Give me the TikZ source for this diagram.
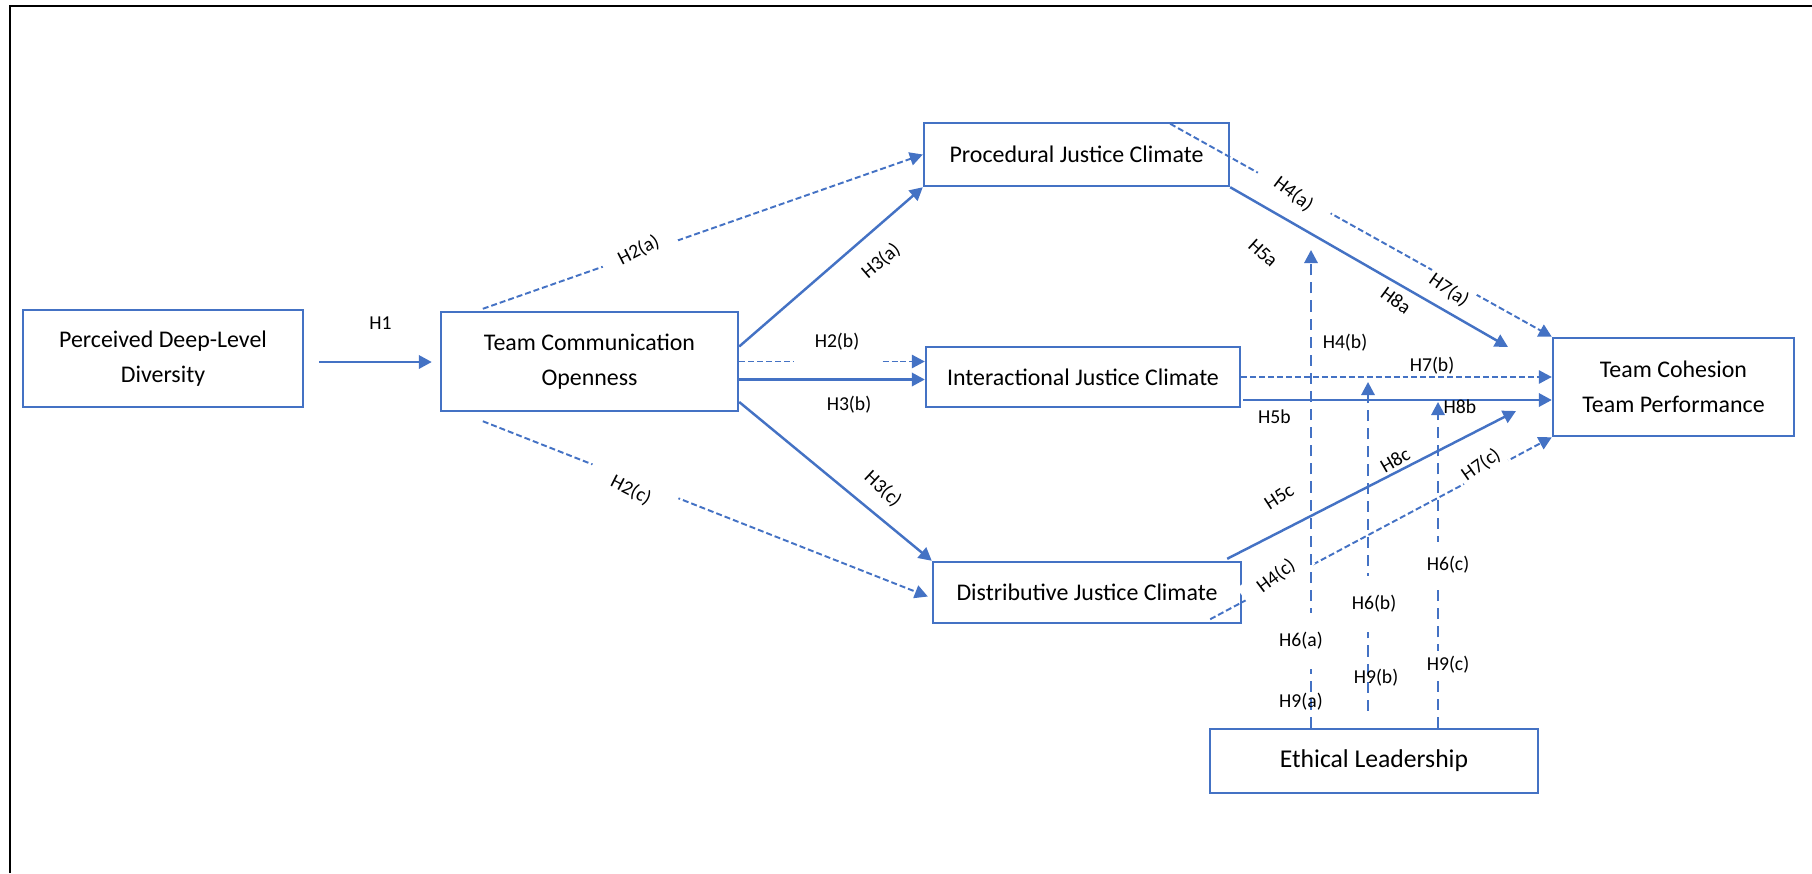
\documentclass[tikz,border=0pt]{standalone}
\usepackage{fontspec}
\setmainfont{Carlito}
\usetikzlibrary{arrows.meta, calc}
\definecolor{wordblue}{HTML}{4472C4}

\begin{document}
\begin{tikzpicture}[x=0.02cm, y=-0.02cm, >={Triangle[length=7.4pt, width=7.6pt]},
  box/.style={draw=wordblue, line width=1.4pt, align=center,
    font=\fontsize{13.6}{20}\selectfont, inner sep=0pt},
  solidarr/.style={->, wordblue, line width=1.4pt},
  dasharr/.style={->, wordblue, line width=1.1pt, dash pattern=on 3.4pt off 1.7pt},
  modarr/.style={->, wordblue, line width=1.1pt, dash pattern=on 6.3pt off 4pt},
  hyp/.style={font=\fontsize{11.2}{13}\selectfont, inner sep=1pt},
  hypgap/.style={hyp, fill=white}]
  \useasboundingbox (0,0) rectangle (1812,873);

  % --- frame ---
  \draw[line width=1.4pt] (10,873) -- (10,6) -- (1812,6);

  % --- boxes ---
  \node[box, minimum width=5.6cm, minimum height=1.94cm] (pdd) at (163,358.5)
    {Perceived Deep-Level\\Diversity};
  \node[box, minimum width=5.94cm, minimum height=1.98cm] (tco) at (589.5,361.5)
    {Team Communication\\Openness};
  \node[box, minimum width=6.1cm, minimum height=1.26cm] (pjc) at (1076.5,154.5)
    {Procedural Justice Climate};
  \node[box, minimum width=6.28cm, minimum height=1.2cm] (ijc) at (1083,377)
    {Interactional Justice Climate};
  \node[box, minimum width=6.16cm, minimum height=1.22cm] (djc) at (1087,592.5)
    {Distributive Justice Climate};
  \node[box, minimum width=4.82cm, minimum height=1.96cm] (tctp) at (1673.5,387)
    {Team Cohesion\\Team Performance};
  \node[box, minimum width=6.56cm, minimum height=1.28cm,
    font=\fontsize{14.6}{20}\selectfont] (el) at (1374,761) {Ethical Leadership};

  % free ends
  \coordinate (h8a) at (1508,347);
  \coordinate (h8c) at (1516,411);
  \coordinate (h3b) at ($(tco.east)+(0,18)$);
  \coordinate (h8b) at ($(ijc.east)+(2,23)$);
  \coordinate (m5a) at (1311,250);
  \coordinate (m4b) at (1368,382);
  \coordinate (m5b) at (1438,402);

  % --- dashed paths (H2, H4, H7) ---
  \draw[dasharr] ($(tco.north west)+(43,-2)$) -- (pjc.west);
  \draw[dasharr] (tco.east) -- (tco.east -| ijc.west);
  \draw[dasharr] ($(tco.south west)+(43,9)$) -- ($(djc.west)+(-4,4)$);
  \draw[dasharr] ($(pjc.north east)+(-60,2)$) -- (tctp.north west);
  \draw[dasharr] (ijc.east) -- (ijc.east -| tctp.west);
  \draw[dasharr] ($(djc.south east)+(-32,-5)$) -- (tctp.south west);

  % gaps in the dashed paths
  \node[hypgap, rotate=27, inner xsep=10pt, inner ysep=3pt] (lh2a) at (638.6,250) {H2(a)};
  \node[hypgap, inner xsep=12pt, inner ysep=7pt] (lh2b) at (837,342) {H2(b)};
  \node[hypgap, rotate=-27, inner xsep=14pt, inner ysep=4pt] (lh2c) at (631,490) {H2(c)};
  \node[hypgap, rotate=-37, inner xsep=11pt, inner ysep=3pt] (lh4a) at (1293.5,194) {H4(a)};
  \node[hypgap, rotate=-35, inner xsep=2pt, inner ysep=4pt] (lh7a) at (1449,290) {H7(a)};
  \node[hypgap, rotate=37, inner xsep=10pt, inner ysep=3pt] (lh4c) at (1276,576) {H4(c)};
  \node[hypgap, rotate=35, inner xsep=2pt, inner ysep=3pt] (lh7c) at (1481,465) {H7(c)};

  % --- moderation (ethical leadership) ---
  \draw[modarr] (m5a |- el.north) -- (m5a);
  \draw[modarr] ($(m4b |- el.north)+(0,-17)$) -- (m4b);
  \draw[modarr] (m5b |- el.north) -- (m5b);
  \node[hypgap, inner xsep=1pt, inner ysep=11pt] (lh6a) at (1301,641) {H6(a)};
  \node[hypgap, inner xsep=1pt, inner ysep=11pt] (lh6b) at (1374,604) {H6(b)};
  \node[hypgap, inner xsep=1pt, inner ysep=8pt] (lh6c) at (1448,565) {H6(c)};
  \node[hypgap, inner xsep=1pt, inner ysep=3pt] (lh9c) at (1448,665) {H9(c)};

  % --- solid paths (H1, H3, H5, H8) ---
  \draw[solidarr] ($(pdd.east)+(15,3.5)$) -- ($(tco.west)+(-8,0.5)$);
  \draw[solidarr] ($(tco.east)+(0,-15)$) -- (pjc.south west);
  \draw[solidarr] (h3b) -- (h3b -| ijc.west);
  \draw[solidarr] ($(tco.east)+(0,40.5)$) -- (djc.north west);
  \draw[solidarr] (pjc.south east) -- (h8a);
  \draw[solidarr] (h8b) -- (h8b -| tctp.west);
  \draw[solidarr] ($(djc.north east)+(-15,-2)$) -- (h8c);

  % --- labels ---
  \foreach \nm/\x/\y/\a/\t in {h1/380.5/323/0/H1, h3a/881/261/40.5/H3(a),
      h3b/849/405/0/H3(b), h3c/883/489/-43/H3(c), h5a/1263/253/-42/H5a,
      h8a/1396/300/-36/H8a, h4b/1345/343/0/H4(b), h7b/1432/366/0/H7(b),
      h5b/1274.5/417/0/H5b, h8b/1460/407/0/H8b, h5c/1279/497/33/H5c,
      h8c/1395/460/30/H8c, h9a/1301/702/0/H9(a), h9b/1376/678/0/H9(b)}
    \node[hyp, rotate=\a] (l\nm) at (\x,\y) {\t};
\end{tikzpicture}
\end{document}
